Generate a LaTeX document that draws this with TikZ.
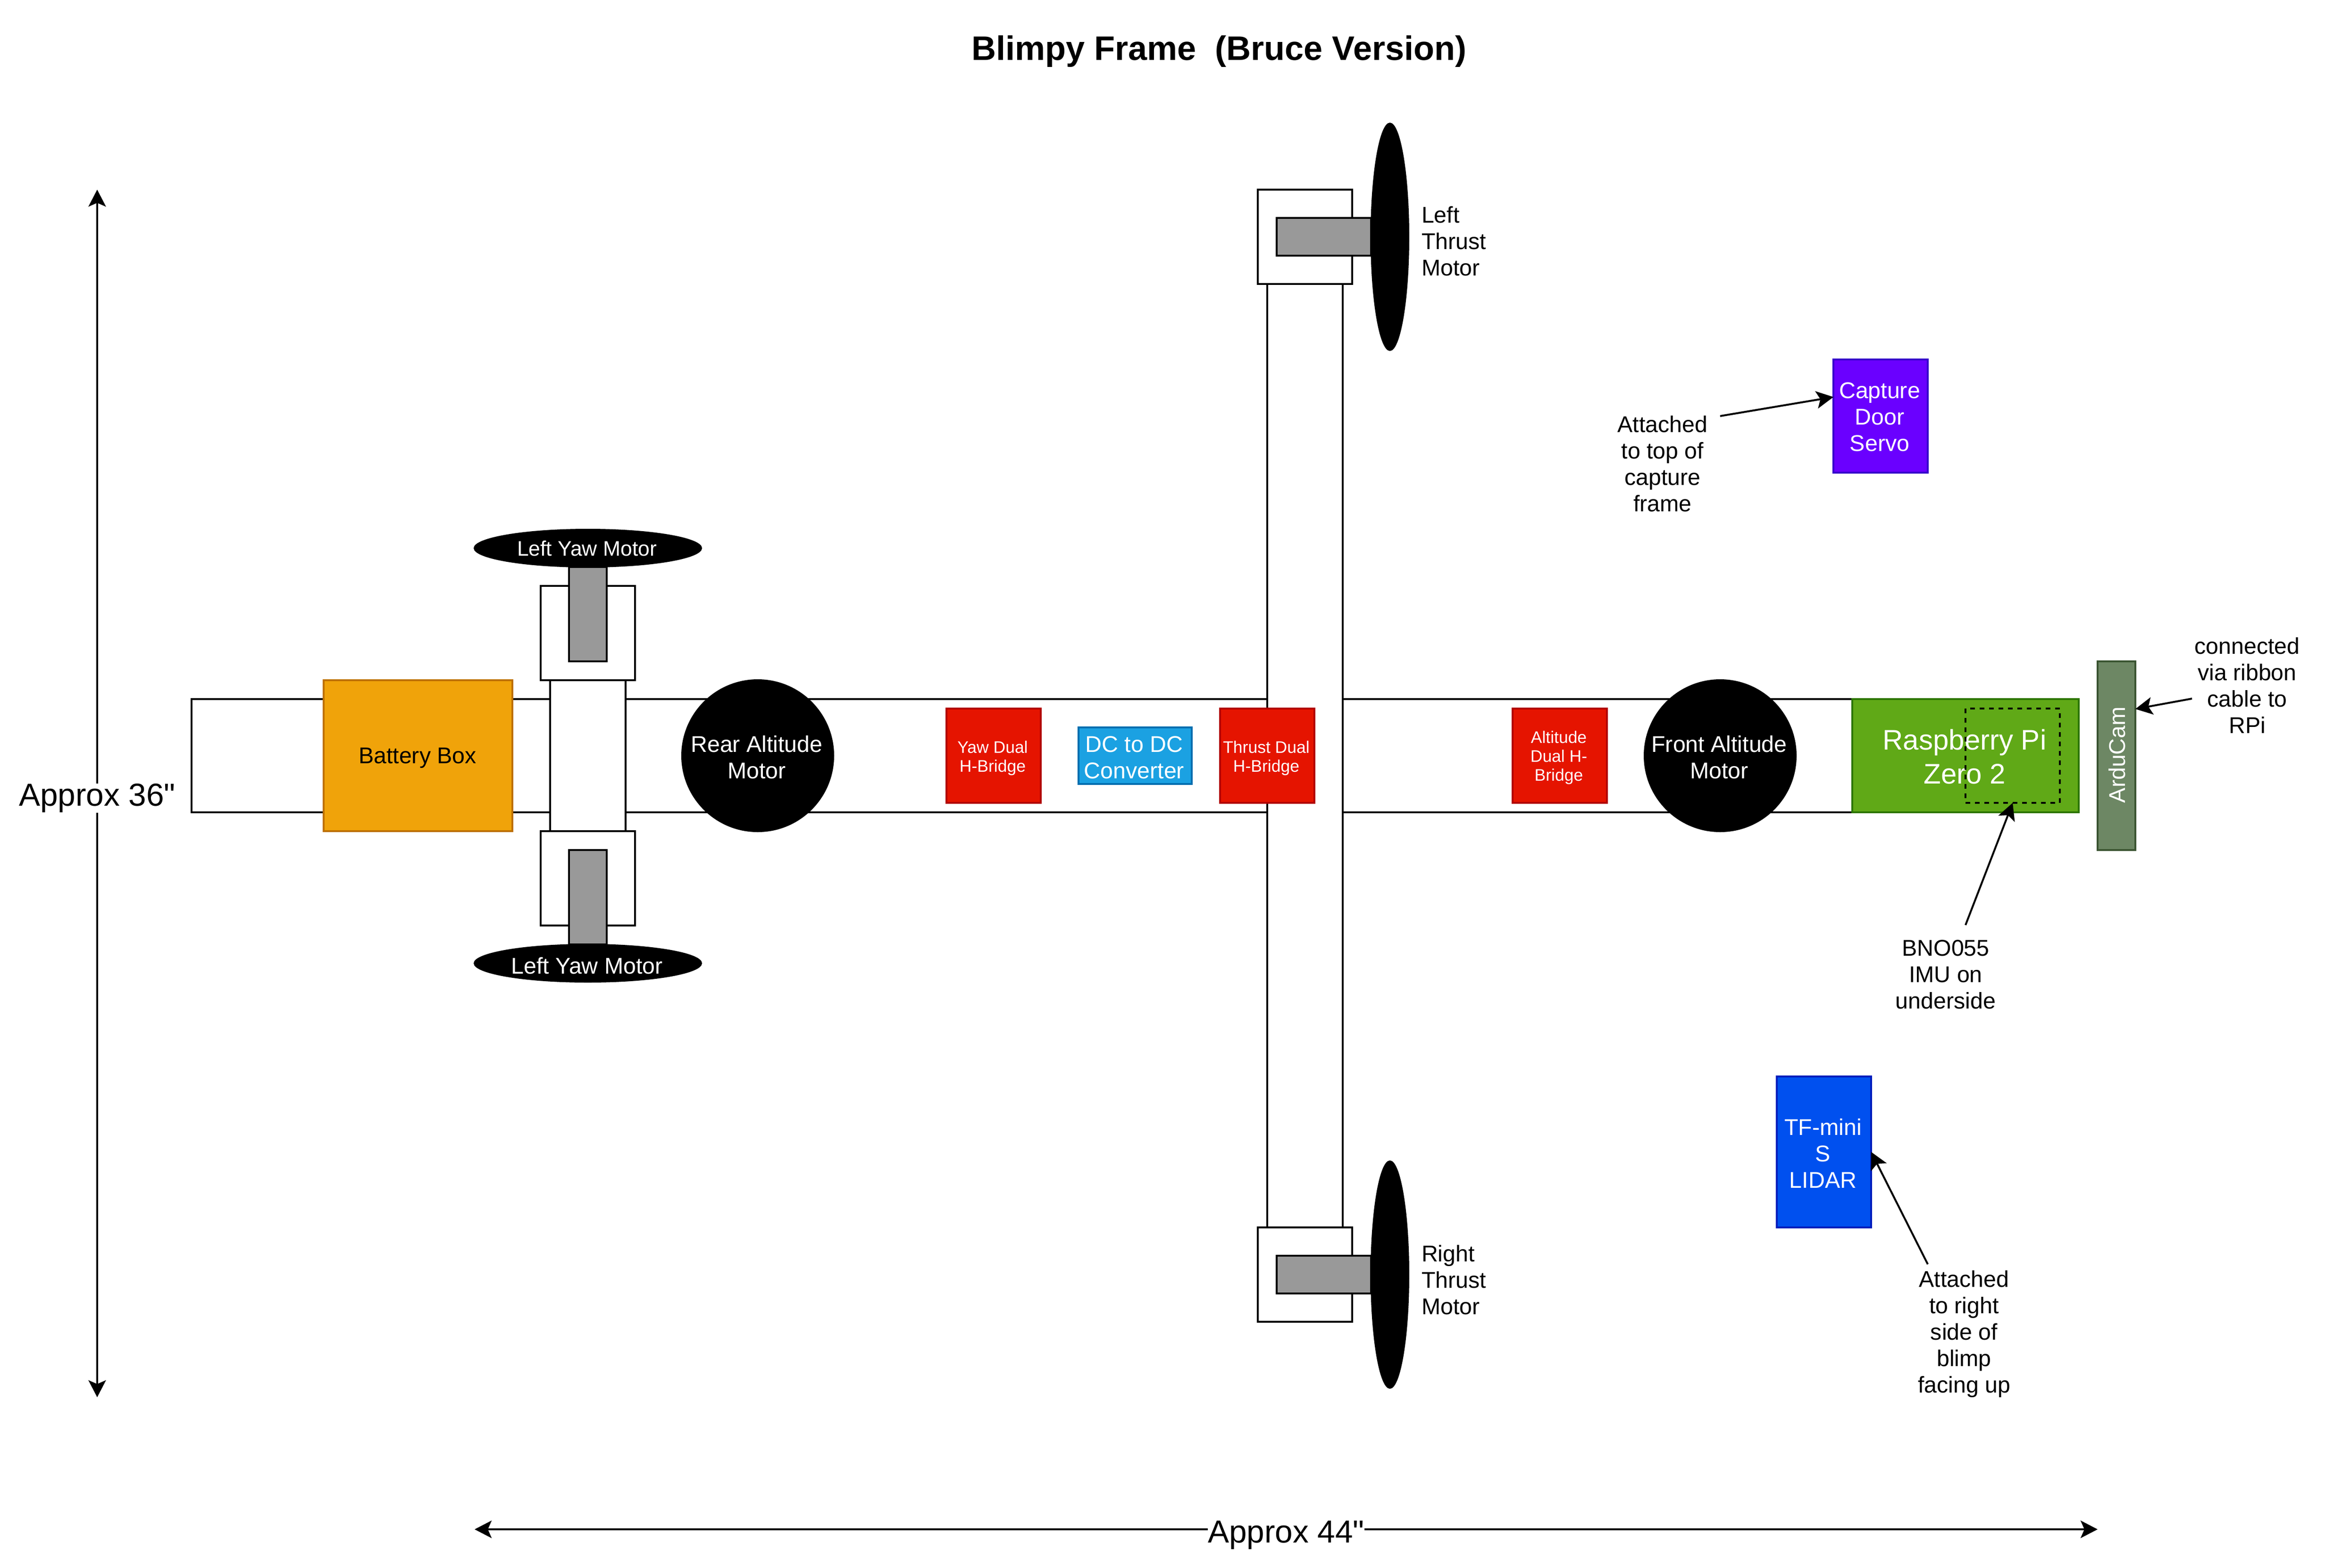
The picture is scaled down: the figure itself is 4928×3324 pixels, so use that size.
\documentclass[tikz,border=0pt]{standalone}
\usepackage{fontspec}
\setmainfont{Liberation Sans}[Ligatures=TeXOff]
\usetikzlibrary{arrows.meta,shapes.geometric}
\definecolor{cRed}{HTML}{E51400}\definecolor{cRedB}{HTML}{B20000}
\definecolor{cBlue}{HTML}{1BA1E2}\definecolor{cBlueB}{HTML}{006EAF}
\definecolor{cPur}{HTML}{6A00FF}\definecolor{cPurB}{HTML}{3700CC}
\definecolor{cCob}{HTML}{0050EF}\definecolor{cCobB}{HTML}{001DBC}
\definecolor{cGrn}{HTML}{60A917}\definecolor{cGrnB}{HTML}{2D7600}
\definecolor{cOli}{HTML}{6D8764}\definecolor{cOliB}{HTML}{3A5431}
\definecolor{cOra}{HTML}{F0A30A}\definecolor{cOraB}{HTML}{BD7000}
\definecolor{cGry}{HTML}{999999}
\tikzset{
  fS/.style={font=\fontsize{35.5}{40}\selectfont},
  fM/.style={font=\fontsize{48.3}{56}\selectfont},
  fY/.style={font=\fontsize{44.5}{52}\selectfont},
  fL/.style={font=\fontsize{60}{72}\selectfont},
  fX/.style={font=\fontsize{67.5}{80}\selectfont},
  fT/.style={font=\bfseries\fontsize{72}{80}\selectfont},
  base/.style={inner sep=0pt,outer sep=0pt,line width=4pt,align=center},
  boxw/.style={base,draw=black,fill=white,rectangle,minimum width=#1},
  hh/.style={minimum height=#1},
  bar/.style={base,draw=black,fill=cGry,rectangle},
  colbox/.style n args={2}{base,draw=#2,fill=#1,rectangle},
  blob/.style={base,fill=black,draw=none,ellipse},
  disc/.style={base,fill=black,draw=none,circle,minimum size=324pt},
  txt/.style={inner sep=0pt,outer sep=0pt,align=center,fM},
  wtxt/.style={txt,text=white},
  txtl/.style={inner sep=0pt,outer sep=0pt,align=left,fM,anchor=west},
  arr/.style={line width=4pt,-{Stealth[length=36pt,width=37pt,inset=8pt]}},
  darr/.style={line width=4pt,{Stealth[length=36pt,width=37pt,inset=8pt]}-{Stealth[length=36pt,width=37pt,inset=8pt]}}
}
\begin{document}
\begin{tikzpicture}[x=1pt,y=-1pt]
\useasboundingbox (0,0) rectangle (4928,3324);
\fill[white] (0,0) rectangle (4928,3324);

% title
\node[txt,fT] (title) at (2584,109) {Blimpy Frame\ \ (Bruce Version)};

% main body and beams
\node[boxw=3520pt,hh=240pt] (main) at (2166,1602) {};
\node[colbox={cOra}{cOraB},minimum width=400pt,minimum height=320pt] (battery) at (886,1602) {};
\node[txt] (batteryT) at (885,1607) {Battery Box};
\node[boxw=160pt,hh=320pt] (yawbeam) at (1246,1602) {};
\node[boxw=160pt,hh=2000pt] (thrustbeam) at (2766,1602) {};

% yaw motors
\node[boxw=200pt,hh=200pt] (yawboxT) at (1246,1342) {};
\node[boxw=200pt,hh=200pt] (yawboxB) at (1246,1862) {};
\node[bar,minimum width=80pt,minimum height=200pt] (yawbarT) at (1246,1302) {};
\node[bar,minimum width=80pt,minimum height=200pt] (yawbarB) at (1246,1902) {};
\node[blob,minimum width=484pt,minimum height=82pt] (yawT) at (1246,1162) {};
\node[blob,minimum width=484pt,minimum height=82pt] (yawB) at (1246,2042) {};
\node[wtxt,fY] (yawTT) at (1244,1163) {Left Yaw Motor};
\node[wtxt] (yawBT) at (1244,2047) {Left Yaw Motor};

% thrust motors
\node[boxw=200pt,hh=200pt] (thrustboxT) at (2766,502) {};
\node[boxw=200pt,hh=200pt] (thrustboxB) at (2766,2702) {};
\node[bar,minimum width=200pt,minimum height=80pt] (thrustbarT) at (2806,502) {};
\node[bar,minimum width=200pt,minimum height=80pt] (thrustbarB) at (2806,2702) {};
\node[blob,minimum width=82pt,minimum height=484pt] (propT) at (2946,502) {};
\node[blob,minimum width=82pt,minimum height=484pt] (propB) at (2946,2702) {};
\node[txtl] (labT) at (3013,511) {Left\\Thrust\\Motor};
\node[txtl] (labB) at (3013,2713) {Right\\Thrust\\Motor};

% altitude motors
\node[disc] (rear) at (1606,1602) {};
\node[disc] (front) at (3646,1602) {};
\node[wtxt] (rearT) at (1604,1605) {Rear Altitude\\Motor};
\node[wtxt] (frontT) at (3644,1605) {Front Altitude\\Motor};

% electronics
\node[colbox={cRed}{cRedB},minimum width=200pt,minimum height=200pt] (hYaw) at (2106,1602) {};
\node[colbox={cBlue}{cBlueB},minimum width=240pt,minimum height=120pt] (dcdc) at (2406,1602) {};
\node[colbox={cRed}{cRedB},minimum width=200pt,minimum height=200pt] (hThrust) at (2686,1602) {};
\node[colbox={cRed}{cRedB},minimum width=200pt,minimum height=200pt] (hAlt) at (3306,1602) {};
\node[wtxt,fS] (hYawT) at (2104,1607) {Yaw Dual\\H-Bridge};
\node[wtxt] (dcdcT) at (2404,1606) {DC to DC\\Converter};
\node[wtxt,fS] (hThrustT) at (2684,1607) {Thrust Dual\\H-Bridge};
\node[wtxt,fS] (hAltT) at (3304,1606) {Altitude\\Dual H-\\Bridge};
\node[colbox={cGrn}{cGrnB},minimum width=480pt,minimum height=240pt] (pi) at (4166,1602) {};
\node[wtxt,fL] (piT) at (4164,1604) {Raspberry Pi\\Zero 2};
\node[base,draw=black,dash pattern=on 10pt off 10pt,minimum width=200pt,minimum height=200pt] (imu) at (4266,1602) {};
\node[colbox={cOli}{cOliB},minimum width=80pt,minimum height=400pt] (cam) at (4486,1602) {};
\node[inner sep=0pt,outer sep=0pt,text=white,fM,rotate=90] (camlab) at (4487,1600) {ArduCam};
\node[colbox={cPur}{cPurB},minimum width=200pt,minimum height=240pt] (servo) at (3986,882) {};
\node[wtxt] (servoT) at (3984,884) {Capture\\Door\\Servo};
\node[colbox={cCob}{cCobB},minimum width=200pt,minimum height=320pt] (tf) at (3866,2442) {};
\node[wtxt] (tfT) at (3864,2445) {TF-mini\\S\\LIDAR};

% notes
\node[txt] (noteServo) at (3524,983) {Attached\\to top of\\capture\\frame};
\node[txt] (noteCam) at (4763,1453) {connected\\via ribbon\\cable to\\RPi};
\node[txt] (noteImu) at (4124,2066) {BNO055\\IMU on\\underside};
\node[txt] (noteTf) at (4163,2828) {Attached\\to right\\side of\\blimp\\facing up};

% note arrows
\coordinate (fromServo) at (3646,882);
\coordinate (fromCam) at (4646,1481);
\coordinate (fromImu) at (4166,1961);
\coordinate (fromTf) at (4086,2680);
\draw[arr] (fromServo) -- (servo.158.2);
\draw[arr] (fromCam) -- (cam.68.6);
\draw[arr] (fromImu) -- (imu.south);
\draw[arr] (fromTf) -- (tf.east);

% dimensions
\coordinate (dimTop) at (206,402);
\coordinate (dimBot) at (206,2962);
\coordinate (dimL) at (1006,3242);
\coordinate (dimR) at (4446,3242);
\draw[darr] (dimTop) -- (dimBot);
\draw[darr] (dimL) -- (dimR);
\node[txt,fX,fill=white] (dim36) at (206,1692) {Approx 36"};
\node[txt,fX,fill=white] (dim44) at (2726,3254) {Approx 44"};
\end{tikzpicture}
\end{document}
